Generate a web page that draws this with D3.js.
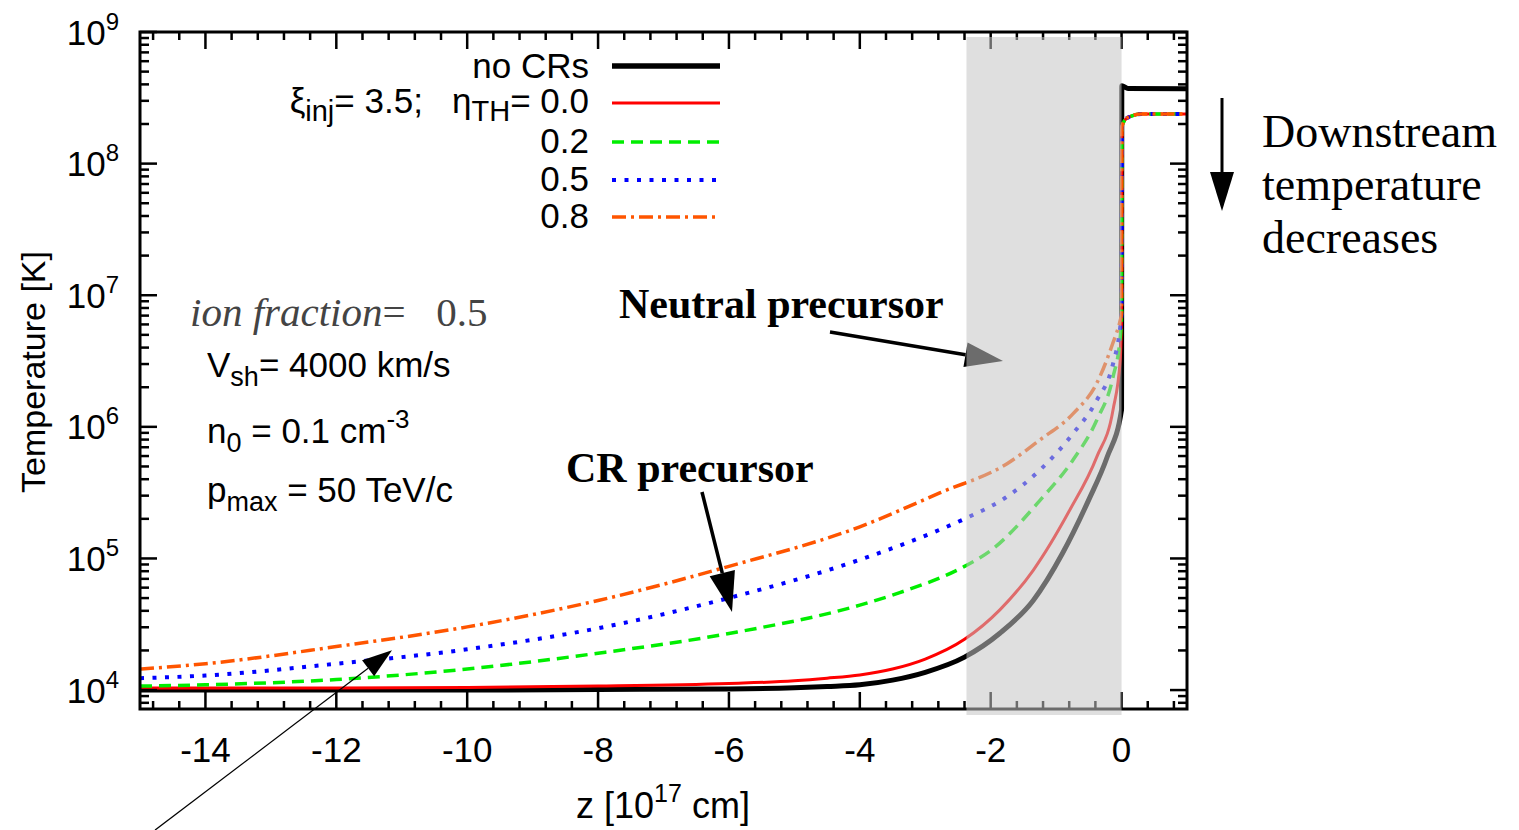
<!DOCTYPE html>
<html>
<head>
<meta charset="utf-8">
<script src="https://cdn.jsdelivr.net/npm/d3@7"></script>
<style>
  body { margin: 0; background: #fff; }
  svg { display: block; }
  text { white-space: pre; }
</style>
</head>
<body>
<script>
// z in 10^17 cm, temperature in K
const zNoCR = [-15, -12, -10, -8, -6, -5, -4.5, -4, -3.5, -3, -2.4, -1.86, -1.35, -0.9, -0.5, -0.22, 0, 0.004, 0.1, 1];
const tNoCR = [1.0e4, 1.0e4, 1.0e4, 1.01e4, 1.021e4, 1.042e4, 1.064e4, 1.096e4, 1.189e4, 1.365e4, 1.78e4, 2.7e4, 4.8e4, 1.1e5, 2.8e5, 5.9e5, 1.35e6, 3.9e8, 3.72e8, 3.7e8];

const zEta00 = [-15, -12, -10, -8, -6, -5, -4.5, -4, -3.5, -3, -2.4, -1.86, -1.35, -0.8, -0.38, -0.13, -0.02, 0, 0.006, 0.05, 0.15, 0.3, 1];
const tEta00 = [1.035e4, 1.035e4, 1.047e4, 1.072e4, 1.122e4, 1.175e4, 1.23e4, 1.303e4, 1.445e4, 1.72e4, 2.43e4, 4.07e4, 8.13e4, 2.29e5, 5.89e5, 1.35e6, 3.24e6, 7.2e6, 1.9e8, 2.14e8, 2.3e8, 2.38e8, 2.38e8];

const zEta02 = [-15, -14, -12, -10, -8, -6, -4, -3.39, -2.4, -2, -1.25, -0.74, -0.38, -0.13, -0.02, 0, 0.006, 0.05, 0.15, 0.3, 1];
const tEta02 = [1.072e4, 1.096e4, 1.202e4, 1.445e4, 1.905e4, 2.69e4, 4.42e4, 5.5e4, 8.71e4, 1.148e5, 2.75e5, 5.62e5, 1.122e6, 2.4e6, 4.79e6, 7.2e6, 1.9e8, 2.14e8, 2.3e8, 2.38e8, 2.38e8];

const zEta05 = [-15, -14, -12, -10, -8, -6, -4, -2.77, -2.36, -1.75, -1.25, -0.74, -0.38, -0.13, -0.02, 0, 0.006, 0.05, 0.15, 0.3, 1];
const tEta05 = [1.23e4, 1.29e4, 1.585e4, 2.04e4, 2.95e4, 5.01e4, 9.77e4, 1.66e5, 2.04e5, 2.95e5, 4.68e5, 8.91e5, 1.585e6, 3.02e6, 5.75e6, 7.2e6, 1.9e8, 2.14e8, 2.3e8, 2.38e8, 2.38e8];

const zEta08 = [-15, -14, -12, -10, -8, -6, -4, -2.77, -1.75, -1.25, -0.74, -0.38, -0.13, -0.02, 0, 0.006, 0.05, 0.15, 0.3, 1];
const tEta08 = [1.445e4, 1.585e4, 2.14e4, 3.02e4, 4.79e4, 8.71e4, 1.74e5, 3.16e5, 5.25e5, 7.94e5, 1.26e6, 2.14e6, 4.37e6, 6.46e6, 7.2e6, 1.9e8, 2.14e8, 2.3e8, 2.38e8, 2.38e8];

const legendLabels = ["no CRs", "0.0", "0.2", "0.5", "0.8"];
const xTicks = [-14, -12, -10, -8, -6, -4, -2, 0];
const yTicks = [1e4, 1e5, 1e6, 1e7, 1e8, 1e9];
const neutralRegion = [-2.37, 0];

const width = 1519, height = 830;
const pLeft = 140, pRight = 1187, pTop = 32, pBottom = 709;

const x = d3.scaleLinear().domain([-15, 1]).range([pLeft, pRight]);
const y = d3.scaleLog().domain([7180, 1e9]).range([pBottom, pTop]);

const svg = d3.select("body").append("svg")
    .attr("width", width)
    .attr("height", height);

svg.append("defs").append("clipPath").attr("id", "plot")
    .append("rect")
    .attr("x", pLeft).attr("y", pTop)
    .attr("width", pRight - pLeft).attr("height", pBottom - pTop);

const series = [
    {z: zNoCR, t: tNoCR, color: "#000000", w: 5, dash: null},
    {z: zEta00, t: tEta00, color: "#ff0000", w: 3, dash: null},
    {z: zEta02, t: tEta02, color: "#00ee00", w: 3.5, dash: "12,7"},
    {z: zEta05, t: tEta05, color: "#0000ff", w: 4, dash: "4,8.5"},
    {z: zEta08, t: tEta08, color: "#ff5500", w: 3.5, dash: "14,5,3,5"}
];

const line = d3.line()
    .x(function(d) { return x(d[0]); })
    .y(function(d) { return y(d[1]); })
    .curve(d3.curveMonotoneX);

const curves = svg.append("g").attr("clip-path", "url(#plot)");
series.forEach(function(s) {
    curves.append("path")
        .attr("d", line(d3.zip(s.z, s.t)))
        .attr("fill", "none")
        .attr("stroke", s.color)
        .attr("stroke-width", s.w)
        .attr("stroke-dasharray", s.dash)
        .attr("stroke-linejoin", "round");
});

// frame and ticks
const axes = svg.append("g").attr("stroke", "#000");
axes.append("rect")
    .attr("x", pLeft).attr("y", pTop)
    .attr("width", pRight - pLeft).attr("height", pBottom - pTop)
    .attr("fill", "none")
    .attr("stroke-width", 3);

const xMinor = d3.range(-15.6, 1.01, 0.4).filter(function(v) {
    return v > -15 && v < 1 && Math.abs(v / 2 - Math.round(v / 2)) > 0.01;
});
xTicks.forEach(function(v) {
    axes.append("line").attr("x1", x(v)).attr("x2", x(v)).attr("y1", pBottom).attr("y2", pBottom - 17).attr("stroke-width", 2.5);
    axes.append("line").attr("x1", x(v)).attr("x2", x(v)).attr("y1", pTop).attr("y2", pTop + 17).attr("stroke-width", 2.5);
});
xMinor.forEach(function(v) {
    axes.append("line").attr("x1", x(v)).attr("x2", x(v)).attr("y1", pBottom).attr("y2", pBottom - 8).attr("stroke-width", 2.5);
    axes.append("line").attr("x1", x(v)).attr("x2", x(v)).attr("y1", pTop).attr("y2", pTop + 8).attr("stroke-width", 2.5);
});

const yMinor = [];
[1e3, 1e4, 1e5, 1e6, 1e7, 1e8].forEach(function(d) {
    for (let k = 2; k <= 9; k++) if (d * k > 7180) yMinor.push(d * k);
});
yTicks.forEach(function(v) {
    axes.append("line").attr("x1", pLeft).attr("x2", pLeft + 17).attr("y1", y(v)).attr("y2", y(v)).attr("stroke-width", 2.5);
    axes.append("line").attr("x1", pRight).attr("x2", pRight - 17).attr("y1", y(v)).attr("y2", y(v)).attr("stroke-width", 2.5);
});
yMinor.forEach(function(v) {
    axes.append("line").attr("x1", pLeft).attr("x2", pLeft + 9).attr("y1", y(v)).attr("y2", y(v)).attr("stroke-width", 2.5);
    axes.append("line").attr("x1", pRight).attr("x2", pRight - 9).attr("y1", y(v)).attr("y2", y(v)).attr("stroke-width", 2.5);
});

// tick labels
const sans = "'Liberation Sans', Arial, sans-serif";
const serif = "'Liberation Serif', 'Times New Roman', serif";

svg.append("g").selectAll("text")
    .data(xTicks)
    .join("text")
    .attr("x", function(d) { return x(d); })
    .attr("y", 762)
    .attr("text-anchor", "middle")
    .attr("font-family", sans)
    .attr("font-size", 35)
    .text(function(d) { return d === 0 ? "0" : "-" + Math.abs(d); });

const yl = svg.append("g").selectAll("text")
    .data(yTicks)
    .join("text")
    .attr("x", 119)
    .attr("y", function(d) { return y(d) + 12.5; })
    .attr("text-anchor", "end")
    .attr("font-family", sans)
    .attr("font-size", 35);
yl.append("tspan").text("10");
yl.append("tspan").attr("dy", -15).attr("font-size", 24)
    .text(function(d) { return Math.round(Math.log10(d)); });

// axis titles
const xt = svg.append("text")
    .attr("x", 663).attr("y", 818)
    .attr("text-anchor", "middle")
    .attr("font-family", sans).attr("font-size", 36);
xt.append("tspan").text("z [10");
xt.append("tspan").attr("dy", -16).attr("font-size", 25).text("17");
xt.append("tspan").attr("dy", 16).text(" cm]");

svg.append("text")
    .attr("transform", "translate(45,372) rotate(-90)")
    .attr("text-anchor", "middle")
    .attr("font-family", sans).attr("font-size", 34)
    .text("Temperature [K]");

// legend
const legendY = [78, 113, 153, 191, 228];
const sampleY = [66, 103, 142, 180, 217];
const leg = svg.append("g");
series.forEach(function(s, i) {
    leg.append("line")
        .attr("x1", 612).attr("x2", 720)
        .attr("y1", sampleY[i]).attr("y2", sampleY[i])
        .attr("stroke", s.color)
        .attr("stroke-width", i === 0 ? 5.5 : s.w)
        .attr("stroke-dasharray", s.dash);
});
legendLabels.forEach(function(lab, i) {
    const t = leg.append("text")
        .attr("x", 589).attr("y", legendY[i])
        .attr("text-anchor", "end")
        .attr("font-family", sans).attr("font-size", 35);
    if (i === 1) {
        t.append("tspan").text("\u03be");
        t.append("tspan").attr("dy", 8).attr("font-size", 29).text("inj");
        t.append("tspan").attr("dy", -8).text("= 3.5;   \u03b7");
        t.append("tspan").attr("dy", 8).attr("font-size", 29).text("TH");
        t.append("tspan").attr("dy", -8).text("= " + lab);
    } else {
        t.text(lab);
    }
});

// parameter notes
const io = svg.append("text")
    .attr("x", 190).attr("y", 326)
    .attr("font-family", serif).attr("font-size", 41)
    .attr("fill", "#444");
io.append("tspan").attr("font-style", "italic").text("ion fraction");
io.append("tspan").text("=   0.5");

function subText(xp, yp, a, sub, b, sup) {
    const t = svg.append("text")
        .attr("x", xp).attr("y", yp)
        .attr("font-family", sans).attr("font-size", 35);
    t.append("tspan").text(a);
    t.append("tspan").attr("dy", 9).attr("font-size", 27).text(sub);
    t.append("tspan").attr("dy", -9).text(b);
    if (sup) t.append("tspan").attr("dy", -15).attr("font-size", 26).text(sup);
}
subText(207, 377, "V", "sh", "= 4000 km/s");
subText(207, 443, "n", "0", " = 0.1 cm", "-3");
subText(207, 502, "p", "max", " = 50 TeV/c");

// annotation arrows
function arrow(g, z1, t1, z2, t2, len, wid, lw) {
    const x1 = x(z1), y1 = y(t1), x2 = x(z2), y2 = y(t2);
    const a = Math.atan2(y2 - y1, x2 - x1);
    const bx = x2 - len * Math.cos(a), by = y2 - len * Math.sin(a);
    g.append("line")
        .attr("x1", x1).attr("y1", y1).attr("x2", bx).attr("y2", by)
        .attr("stroke", "#000").attr("stroke-width", lw);
    const px = Math.sin(a) * wid / 2, py = -Math.cos(a) * wid / 2;
    g.append("path")
        .attr("d", "M" + x2 + "," + y2 + "L" + (bx + px) + "," + (by + py) + "L" + (bx - px) + "," + (by - py) + "Z")
        .attr("fill", "#000");
}
const ann = svg.append("g");
arrow(ann, -4.456, 5.25e6, -1.812, 3.16e6, 38, 25, 3.5);
arrow(ann, -6.412, 3.2e5, -5.953, 3.92e4, 40, 26, 3.5);
arrow(ann, -14.77, 863, -11.149, 2.01e4, 30, 20, 1.2);

// shaded neutral precursor region on top
svg.append("rect")
    .attr("x", x(neutralRegion[0]))
    .attr("y", 37)
    .attr("width", x(neutralRegion[1]) - x(neutralRegion[0]))
    .attr("height", 715 - 37)
    .attr("fill", "#c4c4c4")
    .attr("fill-opacity", 0.55);

svg.append("text")
    .attr("x", 619).attr("y", 318)
    .attr("font-family", serif).attr("font-size", 42).attr("font-weight", "bold")
    .text("Neutral precursor");
svg.append("text")
    .attr("x", 566).attr("y", 482)
    .attr("font-family", serif).attr("font-size", 42).attr("font-weight", "bold")
    .text("CR precursor");

// downstream note
svg.append("line")
    .attr("x1", 1222).attr("x2", 1222).attr("y1", 98).attr("y2", 175)
    .attr("stroke", "#000").attr("stroke-width", 3);
svg.append("path")
    .attr("d", "M1210,172L1234,172L1222,211Z")
    .attr("fill", "#000");
["Downstream", "temperature", "decreases"].forEach(function(s, i) {
    svg.append("text")
        .attr("x", 1262).attr("y", 147 + i * 53)
        .attr("font-family", serif).attr("font-size", 46)
        .text(s);
});
</script>
</body>
</html>
